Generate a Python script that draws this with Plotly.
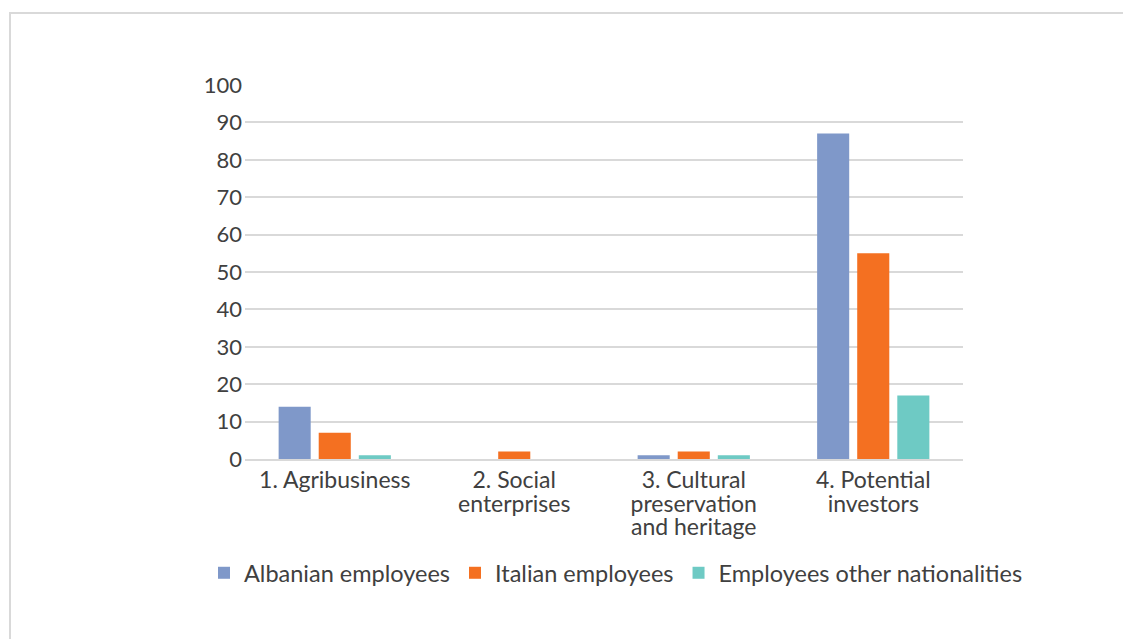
import plotly.graph_objects as go

categories = ["1. Agribusiness", "2. Social<br>enterprises", "3. Cultural<br>preservation<br>and heritage", "4. Potential<br>investors"]
albanian = [14, 0, 1, 87]
italian = [7, 2, 2, 55]
other = [1, 0, 1, 17]

series = [
    ("Albanian employees", albanian, "#7f98c9"),
    ("Italian employees", italian, "#f47021"),
    ("Employees other nationalities", other, "#6ecac4"),
]

fig = go.Figure()
for name, vals, col in series:
    fig.add_trace(go.Bar(x=categories, y=vals, name=name, marker=dict(color=col, line=dict(width=0))))

# tick text: larger glyphs with tighter line spacing
def big(label, size=23):
    return "<br>".join(f"<span style='font-size:{size}px'>{part}</span>" for part in label.split("<br>"))

ticktext = [big(c) for c in categories]

OFF = 8  # default page body margin
W, H = 1131 - OFF, 639 - OFF
L, R, T, B = 245 - OFF, 168, 85 - OFF, 180
pw, ph = W - L - R, H - T - B

def px_x(x):  # page pixel -> paper coord
    return (x - OFF - L) / pw

def px_y(y):
    return (H - B - (y - OFF)) / ph

fig.update_layout(
    width=W, height=H,
    margin=dict(l=L, r=R, t=T, b=B, pad=0),
    paper_bgcolor="white", plot_bgcolor="white",
    barmode="group", bargap=0.33, bargroupgap=0.2,
    font=dict(family="Lato", size=20, color="#404040"),
    showlegend=True,
    legend=dict(orientation="h", x=px_x(204), xanchor="left", y=px_y(573), yanchor="middle",
                font=dict(size=23.5), itemwidth=30, traceorder="normal"),
    xaxis=dict(showgrid=False, showline=True, linecolor="#d9d9d9", linewidth=1.5, ticks="",
               tickmode="array", tickvals=categories, ticktext=ticktext,
               tickfont=dict(size=18), ticklabelstandoff=6),
    yaxis=dict(range=[0, 100], dtick=10, showgrid=True, gridcolor="#d9d9d9", gridwidth=1.5,
               zeroline=False, ticks="", tickfont=dict(size=22), ticklabelstandoff=2),
    shapes=[dict(type="rect", xref="paper", yref="paper",
                 x0=px_x(10), x1=px_x(1250), y0=px_y(760), y1=px_y(13),
                 line=dict(color="#d9d9d9", width=2), fillcolor="rgba(0,0,0,0)", layer="below")],
)

fig.write_html("out.html")
